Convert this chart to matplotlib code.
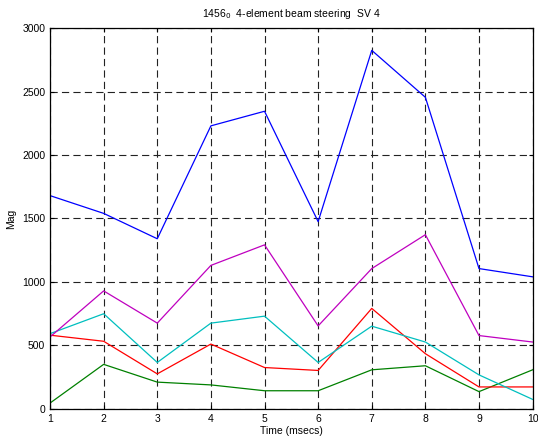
import numpy as np
import matplotlib
matplotlib.use("Agg")
import matplotlib.pyplot as plt

plt.rcParams['font.family'] = ['Liberation Sans', 'DejaVu Sans']

# time axis and one magnitude trace per steering element
t_msec = [1, 2, 3, 4, 5, 6, 7, 8, 9, 10]
mag_sv1 = [1680, 1540, 1340, 2230, 2345, 1475, 2825, 2455, 1105, 1040]
mag_sv2 = [45, 350, 210, 188, 142, 142, 307, 339, 135, 307]
mag_sv3 = [580, 532, 275, 510, 325, 302, 791, 434, 172, 172]
mag_sv4 = [592, 749, 365, 675, 730, 365, 651, 526, 267, 74]
mag_sv5 = [566, 929, 675, 1130, 1292, 653, 1105, 1372, 577, 526]

# MATLAB default colour order
colors = [(0, 0, 1), (0, 0.5, 0), (1, 0, 0), (0, 0.75, 0.75), (0.75, 0, 0.75)]

fig = plt.figure(figsize=(5.38, 4.40), dpi=100)
ax = fig.add_axes([0.093, 0.071, 0.897, 0.865])

for y, c in zip([mag_sv1, mag_sv2, mag_sv3, mag_sv4, mag_sv5], colors):
    ax.plot(t_msec, y, color=c, linewidth=0.9)

ax.set_xlim(1, 10)
ax.set_ylim(0, 3000)
ax.set_xticks(range(1, 11))
ax.set_yticks(range(0, 3001, 500))
ax.grid(True, color='#222222', linestyle=(0, (6.5, 3.8)), linewidth=0.8)
ax.tick_params(direction='in', labelsize=7.5, length=3, top=True, right=True)
for s in ax.spines.values():
    s.set_linewidth(0.9)

ax.set_xlabel('Time (msecs)', fontsize=7.5, labelpad=2)
ax.set_ylabel('Mag', fontsize=7.5, labelpad=4)
ax.set_title('1456$_0$  4-element beam steering  SV 4', fontsize=7.5, pad=8)

fig.savefig('out.png', dpi=100)
